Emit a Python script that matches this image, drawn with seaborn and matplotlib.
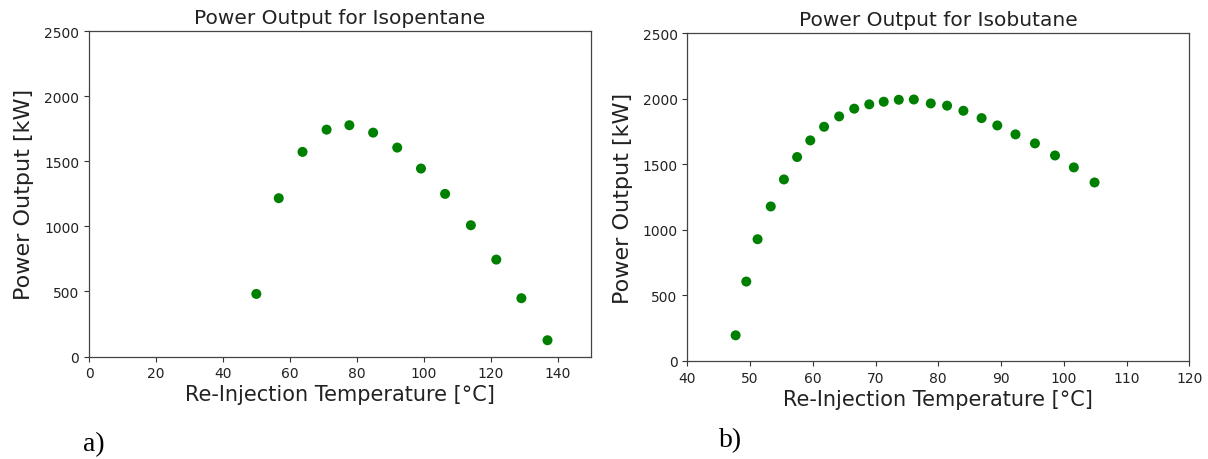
import matplotlib
matplotlib.use("Agg")
import matplotlib.pyplot as plt
import seaborn as sns
import pandas as pd

# Isopentane data
iso_pentane_temp = [50.0, 56.7, 63.8, 71.0, 77.8, 84.9, 92.1, 99.2, 106.4, 114.1, 121.7, 129.2, 137.0]
iso_pentane_power = [481, 1217, 1573, 1744, 1778, 1721, 1606, 1445, 1250, 1009, 745, 448, 125]

# Isobutane data
iso_butane_temp = [47.7, 49.4, 51.2, 53.3, 55.4, 57.5, 59.6, 61.8, 64.2, 66.6, 69.0, 71.3,
                   73.7, 76.1, 78.8, 81.4, 84.0, 86.9, 89.4, 92.3, 95.4, 98.6, 101.6, 104.9]
iso_butane_power = [196, 606, 929, 1179, 1385, 1556, 1683, 1787, 1866, 1925, 1958, 1978,
                    1993, 1995, 1965, 1948, 1909, 1853, 1797, 1729, 1660, 1568, 1477, 1362]

titles = ["Power Output for Isopentane", "Power Output for Isobutane"]
xlabel = "Re-Injection Temperature [°C]"
ylabel = "Power Output [kW]"
panel_labels = ["a)", "b)"]

plt.rcParams['font.family'] = ['DejaVu Sans']

W, H = 1208, 460
fig = plt.figure(figsize=(W / 100, H / 100), dpi=100)
ax1 = fig.add_axes([89 / W, 1 - 357.5 / H, 502 / W, (357.5 - 32.3) / H])
ax2 = fig.add_axes([687.3 / W, 1 - 362 / H, 502 / W, (362 - 34.3) / H])

df1 = pd.DataFrame({"t": iso_pentane_temp, "p": iso_pentane_power})
df2 = pd.DataFrame({"t": iso_butane_temp, "p": iso_butane_power})

sc = dict(color="green", s=52, edgecolor="none", linewidth=0)
sns.scatterplot(data=df1, x="t", y="p", ax=ax1, **sc)
sns.scatterplot(data=df2, x="t", y="p", ax=ax2, **sc)

ax1.set_xlim(0, 150)
ax1.set_xticks([0, 20, 40, 60, 80, 100, 120, 140])
ax2.set_xlim(40, 120)
ax2.set_xticks([40, 50, 60, 70, 80, 90, 100, 110, 120])

for ax, title in zip([ax1, ax2], titles):
    ax.set_ylim(0, 2500)
    ax.set_yticks([0, 500, 1000, 1500, 2000, 2500])
    ax.set_title(title, fontsize=14.5, color="#222222", pad=6)
    ax.set_xlabel(xlabel, fontsize=15, color="#222222", labelpad=3)
    ax.set_ylabel(ylabel, fontsize=16, color="#222222", labelpad=7)
    ax.tick_params(labelsize=10, colors="#333333", labelcolor="#222222")
    for sp in ax.spines.values():
        sp.set_color("#444444")
        sp.set_linewidth(0.9)

fig.text(94 / W, 1 - 445 / H, panel_labels[0], family="Liberation Serif",
         fontsize=20, ha="center", va="center", color="black")
fig.text(730.5 / W, 1 - 441 / H, panel_labels[1], family="Liberation Serif",
         fontsize=20, ha="center", va="center", color="black")

fig.savefig("out.png", dpi=100, facecolor="white")
